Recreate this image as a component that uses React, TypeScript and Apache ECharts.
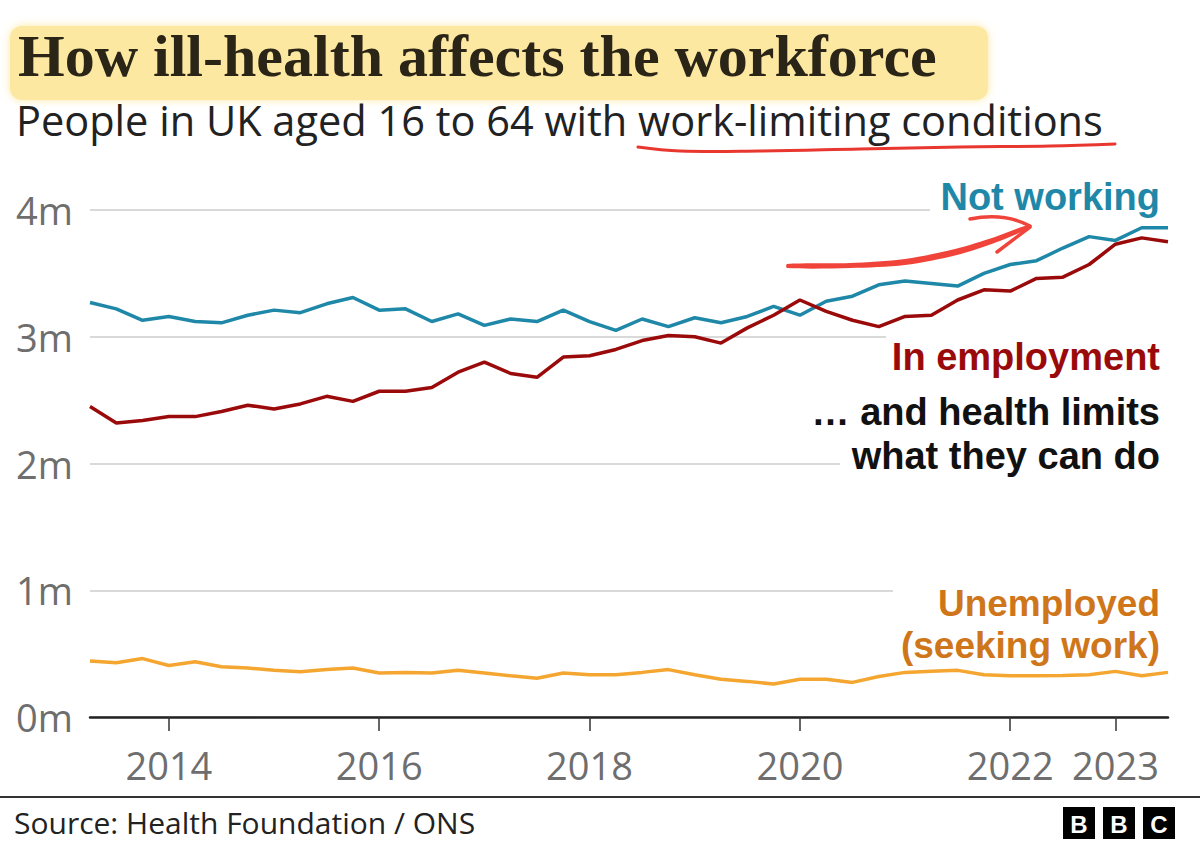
import React, { useEffect, useRef } from "react";
import * as echarts from "echarts";

const quarters = [
  "2013 Q2", "2013 Q3", "2013 Q4",
  "2014 Q1", "2014 Q2", "2014 Q3", "2014 Q4",
  "2015 Q1", "2015 Q2", "2015 Q3", "2015 Q4",
  "2016 Q1", "2016 Q2", "2016 Q3", "2016 Q4",
  "2017 Q1", "2017 Q2", "2017 Q3", "2017 Q4",
  "2018 Q1", "2018 Q2", "2018 Q3", "2018 Q4",
  "2019 Q1", "2019 Q2", "2019 Q3", "2019 Q4",
  "2020 Q1", "2020 Q2", "2020 Q3", "2020 Q4",
  "2021 Q1", "2021 Q2", "2021 Q3", "2021 Q4",
  "2022 Q1", "2022 Q2", "2022 Q3", "2022 Q4",
  "2023 Q1", "2023 Q2", "2023 Q3",
];

const tickQuarters = ["2014 Q1", "2016 Q1", "2018 Q1", "2020 Q1", "2022 Q1", "2023 Q1"];

// millions of people
const notWorking = [
  3.27, 3.22, 3.13, 3.16, 3.12, 3.11, 3.17, 3.21, 3.19, 3.26, 3.31,
  3.21, 3.22, 3.12, 3.18, 3.09, 3.14, 3.12, 3.21, 3.12, 3.05,
  3.14, 3.08, 3.15, 3.11, 3.16, 3.24, 3.17, 3.28, 3.32, 3.41,
  3.44, 3.42, 3.40, 3.50, 3.57, 3.60, 3.70, 3.79, 3.76, 3.86, 3.86,
];

const inEmployment = [
  2.45, 2.32, 2.34, 2.37, 2.37, 2.41, 2.46, 2.43, 2.47, 2.53, 2.49,
  2.57, 2.57, 2.60, 2.72, 2.80, 2.71, 2.68, 2.84, 2.85, 2.90,
  2.97, 3.01, 3.00, 2.95, 3.07, 3.17, 3.29, 3.20, 3.13, 3.08,
  3.16, 3.17, 3.29, 3.37, 3.36, 3.46, 3.47, 3.57, 3.73, 3.78, 3.75,
];

const unemployed = [
  0.442, 0.428, 0.461, 0.406, 0.436, 0.396, 0.387, 0.368, 0.357, 0.374, 0.387,
  0.347, 0.352, 0.347, 0.368, 0.347, 0.325, 0.306, 0.347, 0.333, 0.333,
  0.352, 0.374, 0.333, 0.298, 0.281, 0.260, 0.298, 0.298, 0.273, 0.319,
  0.352, 0.360, 0.368, 0.333, 0.325, 0.325, 0.328, 0.333, 0.360, 0.325, 0.352,
];

const yTickLabels = ["0m", "1m", "2m", "3m", "4m"];

const TEAL = "#1f88a8";
const DARKRED = "#9b0a0a";
const ORANGE_LINE = "#f4a631";
const ORANGE_TEXT = "#cf761a";
const SANS = '"Open Sans", "Noto Sans", sans-serif';
const BOLD_SANS = '"Liberation Sans", Arial, sans-serif';

export default function App() {
  const ref = useRef<HTMLDivElement>(null);

  useEffect(() => {
    const chart = echarts.init(ref.current!, null, { renderer: "svg" });
    const isTick = (_i: number, v: string) => tickQuarters.includes(v);
    const whiteRect = (x: number, y: number, w: number, h: number) => ({
      type: "rect",
      z: 10,
      shape: { x, y, width: w, height: h },
      style: { fill: "#ffffff" },
    });
    const label = (text: string, y: number, color: string, size = 38, lineHeight = 44) => ({
      type: "text",
      z: 11,
      x: 1160,
      y,
      style: {
        text,
        fill: color,
        font: `bold ${size}px ${BOLD_SANS}`,
        lineHeight,
        align: "right",
        verticalAlign: "middle",
      },
    });

    chart.setOption({
      animation: false,
      backgroundColor: "#ffffff",
      grid: { left: 90, right: 32, top: 210, bottom: 127, containLabel: false },
      xAxis: {
        type: "category",
        data: quarters,
        boundaryGap: false,
        axisLine: { show: true, lineStyle: { color: "#222222", width: 2.5 } },
        axisTick: {
          show: true,
          interval: isTick,
          length: 14,
          lineStyle: { color: "#333333", width: 1.5 },
        },
        axisLabel: {
          interval: isTick,
          formatter: (v: string) => v.slice(0, 4),
          color: "#6e6e6e",
          fontSize: 38,
          fontFamily: SANS,
          margin: 29,
        },
        splitLine: { show: false },
      },
      yAxis: {
        type: "value",
        min: 0,
        max: 4,
        interval: 1,
        axisLine: { show: false },
        axisTick: { show: false },
        axisLabel: {
          formatter: (v: number) => yTickLabels[Math.round(v)],
          color: "#6e6e6e",
          fontSize: 38,
          fontFamily: SANS,
          align: "left",
          margin: 74,
        },
        splitLine: { show: true, lineStyle: { color: "#cccccc", width: 1.5 } },
      },
      series: [
        {
          name: "Unemployed (seeking work)",
          type: "line",
          data: unemployed,
          symbol: "none",
          lineStyle: { color: ORANGE_LINE, width: 3.5 },
          z: 3,
        },
        {
          name: "Not working",
          type: "line",
          data: notWorking,
          symbol: "none",
          lineStyle: { color: TEAL, width: 3.5 },
          z: 3,
        },
        {
          name: "In employment",
          type: "line",
          data: inEmployment,
          symbol: "none",
          lineStyle: { color: DARKRED, width: 3.5 },
          z: 4,
        },
      ],
      graphic: [
        {
          type: "rect",
          z: 1,
          shape: { x: 10, y: 26, width: 978, height: 74, r: 12 },
          style: { fill: "#fde8a2", shadowBlur: 8, shadowColor: "#fde8a2" },
        },
        {
          type: "text",
          z: 2,
          x: 18,
          y: 56,
          style: {
            text: "How ill-health affects the workforce",
            font: 'bold 60px "Liberation Serif", serif',
            fill: "#2a2517",
            verticalAlign: "middle",
          },
        },
        {
          type: "text",
          z: 2,
          x: 16,
          y: 120,
          style: {
            text: "People in UK aged 16 to 64 with work-limiting conditions",
            font: `41.5px ${SANS}`,
            fill: "#222222",
            verticalAlign: "middle",
          },
        },
        {
          type: "polyline",
          z: 3,
          shape: {
            points: [[638, 147], [680, 151], [760, 151], [860, 149], [960, 147], [1050, 146], [1115, 144]],
            smooth: 0.4,
          },
          style: { stroke: "#e8372f", lineWidth: 3, fill: "none", lineCap: "round" },
        },
        whiteRect(930, 204, 240, 12),
        whiteRect(886, 331, 284, 12),
        whiteRect(840, 457, 330, 12),
        whiteRect(893, 584, 277, 12),
        label("Not working", 197, TEAL),
        label("In employment", 357, DARKRED),
        label("\u2026 and health limits\nwhat they can do", 434, "#111111", 38, 44),
        label("Unemployed\n(seeking work)", 624, ORANGE_TEXT, 37, 42),
        {
          type: "polygon",
          z: 12,
          shape: {
            points: [
              [787, 264], [850, 263], [905, 259], [955, 249], [995, 237], [1028, 225],
              [1027, 229], [997, 242], [957, 255], [905, 265], [850, 268], [787, 268],
            ],
            smooth: 0.3,
          },
          style: { fill: "#f0443a" },
        },
        {
          type: "bezierCurve",
          z: 12,
          shape: { x1: 970, y1: 219, cpx1: 995, cpy1: 214, cpx2: 1015, cpy2: 218, x2: 1030, y2: 226 },
          style: { stroke: "#f0443a", lineWidth: 3.5, lineCap: "round", fill: "none" },
        },
        {
          type: "line",
          z: 12,
          shape: { x1: 1030, y1: 227, x2: 997, y2: 252 },
          style: { stroke: "#f0443a", lineWidth: 3.5, lineCap: "round" },
        },
        {
          type: "line",
          z: 5,
          shape: { x1: 0, y1: 797, x2: 1200, y2: 797 },
          style: { stroke: "#333333", lineWidth: 2 },
        },
        {
          type: "text",
          z: 5,
          x: 14,
          y: 822,
          style: {
            text: "Source: Health Foundation / ONS",
            font: `30px ${SANS}`,
            fill: "#222222",
            verticalAlign: "middle",
          },
        },
        ...["B", "B", "C"].flatMap((ch, i) => [
          {
            type: "rect",
            z: 5,
            shape: { x: 1063 + i * 40, y: 807, width: 32, height: 32 },
            style: { fill: "#000000" },
          },
          {
            type: "text",
            z: 6,
            x: 1079 + i * 40,
            y: 824,
            style: {
              text: ch,
              font: 'bold 24px "Liberation Sans", sans-serif',
              fill: "#ffffff",
              align: "center",
              verticalAlign: "middle",
            },
          },
        ]),
      ],
    });
    return () => chart.dispose();
  }, []);

  return (
    <div
      ref={ref}
      style={{ position: "fixed", left: 0, top: 0, width: 1200, height: 844, background: "#ffffff" }}
    />
  );
}
